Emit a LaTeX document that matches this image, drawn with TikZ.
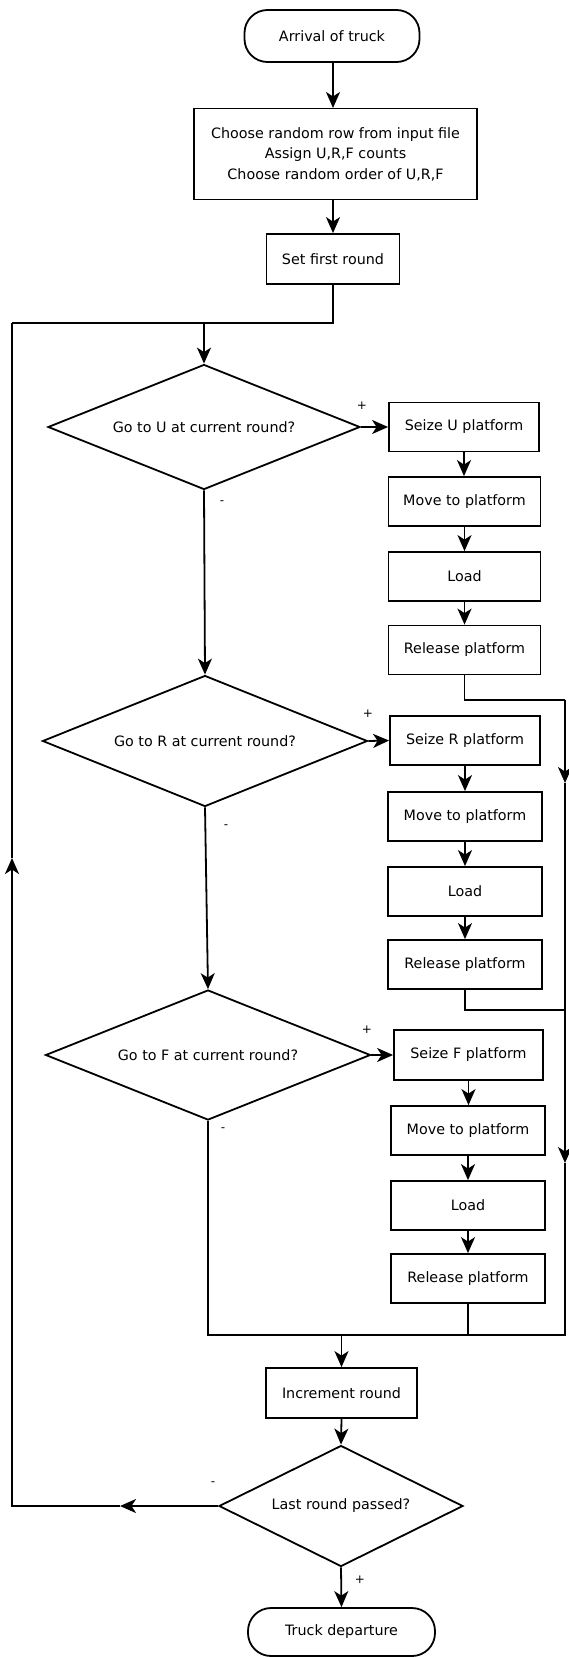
\documentclass[tikz,border=0pt]{standalone}
\usepackage{fontspec}
\setmainfont{DejaVu Sans}
\usetikzlibrary{shapes.geometric,arrows.meta}

\tikzset{
    process/.style={draw, line width=1.8pt, minimum width=152pt, minimum height=49pt, inner sep=0pt, align=center},
    terminal/.style={draw, line width=1.8pt, rounded corners=23pt, minimum height=50pt, inner sep=0pt},
    decision/.style={draw, diamond, aspect=2.5, line width=1.8pt, inner sep=0pt},
    flow/.style={line width=1.8pt, arrows={-Stealth[length=16pt,width=14pt,inset=4.5pt]}},
    line/.style={line width=1.8pt},
    sign/.style={font=\fontsize{12}{12}\selectfont}
}

\begin{document}
\begin{tikzpicture}[x=1pt, y=-1pt, font=\fontsize{14.3}{20.5}\selectfont]
            
            \useasboundingbox (0,0) rectangle (568,1657);
            
            \node[terminal, minimum width=175pt, minimum height=52pt] (start) at (332,36) {Arrival of truck};
            \node[process, minimum width=283pt, minimum height=91pt] (init) at (335.5,154)
            {Choose random row from input file\\Assign U,R,F counts\\Choose random order of U,R,F};
            \node[process, minimum width=133pt, minimum height=50pt] (first) at (333,259) {Set first round};
            
            \node[decision, minimum width=312pt, minimum height=125pt] (goU) at (204,427) {Go to U at current round?};
            \node[decision, minimum width=325pt, minimum height=131pt] (goR) at (205,741) {Go to R at current round?};
            \node[decision, minimum width=325pt, minimum height=130pt] (goF) at (208,1055) {Go to F at current round?};
            
            \node[process, minimum width=150pt] (seizeU) at (464,427) {Seize U platform};
            \node[process] (moveU) at (464.5,501.5) {Move to platform};
            \node[process] (loadU) at (464.5,576.5) {Load};
            \node[process] (relU) at (464.5,650) {Release platform};
            
            \node[process, minimum width=150pt] (seizeR) at (465,740.5) {Seize R platform};
            \node[process, minimum width=154pt] (moveR) at (465,816.5) {Move to platform};
            \node[process, minimum width=154pt] (loadR) at (465,891.5) {Load};
            \node[process, minimum width=154pt] (relR) at (465,964.5) {Release platform};
            
            \node[process, minimum width=149pt, minimum height=50pt] (seizeF) at (468.5,1055) {Seize F platform};
            \node[process, minimum width=154pt] (moveF) at (468,1130.5) {Move to platform};
            \node[process, minimum width=154pt] (loadF) at (468,1205.5) {Load};
            \node[process, minimum width=154pt] (relF) at (468,1278.5) {Release platform};
            
            \node[process, minimum width=151pt, minimum height=50pt] (inc) at (341.5,1393) {Increment round};
            \node[decision, minimum width=244pt, minimum height=121pt] (last) at (341,1506) {Last round passed?};
            \node[terminal, minimum width=187pt, minimum height=48pt] (stop) at (341.5,1632) {Truck departure};
            
            \coordinate (join) at (204,323);
            \coordinate (loopTop) at (12,323);
            \coordinate (loopBot) at (12,1506);
            \coordinate (loopUp) at (12,858);
            \coordinate (loopArr) at (120,1506);
            \coordinate (rTop) at (565,700);
            \coordinate (rMid) at (565,1010);
            \coordinate (rArrA) at (565,783);
            \coordinate (rArrB) at (565,1163);
            \coordinate (rBot) at (565,1335);
            \coordinate (lBot) at (208,1335);
            \coordinate (merge) at (341.5,1335);
            
            \draw[flow] (start.south -| 333,0) -- (333,108);
            \draw[flow] (init.south -| 333,0) -- (first.north);
            \draw[line] (first.south) |- (loopTop);
            \draw[flow] (join) -- (goU.north);
            
            \draw[flow] (goU.east) -- (seizeU.west);
            \draw[flow] (seizeU.south) -- (seizeU.south |- moveU.north);
            \draw[flow] (moveU.south) -- (loadU.north);
            \draw[flow] (loadU.south) -- (relU.north);
            
            \draw[flow] (goU.south) -- (goR.north);
            \draw[flow] (goR.east) -- (seizeR.west);
            \draw[flow] (seizeR.south) -- (moveR.north);
            \draw[flow] (moveR.south) -- (loadR.north);
            \draw[flow] (loadR.south) -- (relR.north);
            
            \draw[flow] (goR.south) -- (goF.north);
            \draw[flow] (goF.east) -- (seizeF.west);
            \draw[flow] (seizeF.south) -- (seizeF.south |- moveF.north);
            \draw[flow] (moveF.south) -- (loadF.north);
            \draw[flow] (loadF.south) -- (relF.north);
            
            \draw[line] (relU.south) |- (rTop);
            \draw[flow] (rTop) -- (rArrA);
            \draw[flow] (rArrA) -- (rArrB);
            \draw[line] (rArrB) -- (rBot) -- (lBot) -- (goF.south);
            \draw[line] (relR.south) |- (rMid);
            \draw[line] (relF.south) -- (relF.south |- rBot);
            
            \draw[flow] (merge) -- (inc.north);
            \draw[flow] (inc.south) -- (last.north);
            \draw[flow] (last.south) -- (stop.north);
            
            \draw[flow] (last.west) -- (loopArr);
            \draw[flow] (loopArr) -- (loopBot) -- (loopUp);
            \draw[line] (loopUp) -- (loopTop);
            
            \node[sign] (plusU) at (362,406) {+};
            \node[sign] (plusR) at (368,714) {+};
            \node[sign] (plusF) at (367,1030) {+};
            \node[sign] (plusL) at (360,1580) {+};
            \node[sign] (minusU) at (222,503) {-};
            \node[sign] (minusR) at (226,827) {-};
            \node[sign] (minusF) at (223,1130) {-};
            \node[sign] (minusL) at (213,1484) {-};
            
\end{tikzpicture}
\end{document}
